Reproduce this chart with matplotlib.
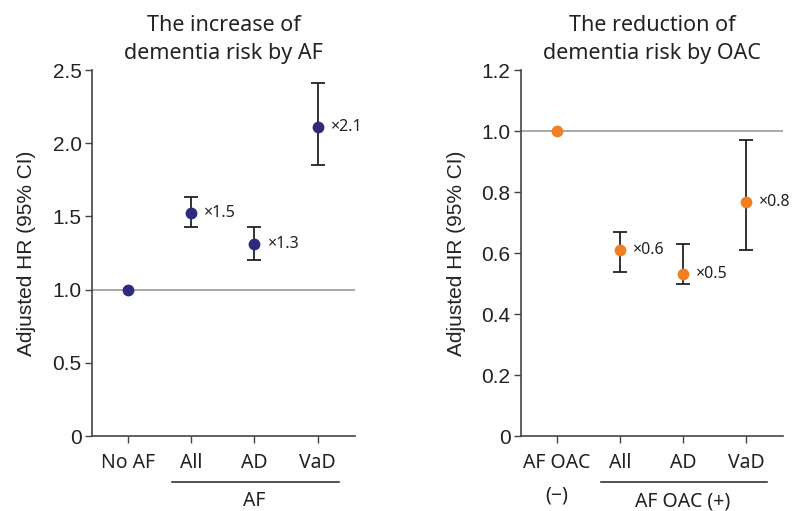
import matplotlib
matplotlib.use("Agg")
import matplotlib.pyplot as plt
import matplotlib.transforms as mtrans

plt.rcParams['font.family'] = ['Noto Sans', 'DejaVu Sans']

# Left panel data
left_cats = ["No AF", "All", "AD", "VaD"]
left_hr = [1.0, 1.52, 1.31, 2.11]
left_lo = [1.0, 1.43, 1.20, 1.85]
left_hi = [1.0, 1.635, 1.43, 2.41]
left_ann = [None, "×1.5", "×1.3", "×2.1"]
left_title = "The increase of\ndementia risk by AF"
left_group = "AF"
left_yticks = [0, 0.5, 1.0, 1.5, 2.0, 2.5]
left_yticklabels = ["0", "0.5", "1.0", "1.5", "2.0", "2.5"]

# Right panel data
right_cats = ["AF OAC\n(−)", "All", "AD", "VaD"]
right_hr = [1.0, 0.61, 0.53, 0.767]
right_lo = [1.0, 0.538, 0.50, 0.61]
right_hi = [1.0, 0.669, 0.63, 0.97]
right_ann = [None, "×0.6", "×0.5", "×0.8"]
right_title = "The reduction of\ndementia risk by OAC"
right_group = "AF OAC (+)"
right_yticks = [0, 0.2, 0.4, 0.6, 0.8, 1.0, 1.2]
right_yticklabels = ["0", "0.2", "0.4", "0.6", "0.8", "1.0", "1.2"]

W, H = 797, 511
fig = plt.figure(figsize=(W / 100, H / 100), dpi=100)

AX_H = 366
ax1 = fig.add_axes([92 / W, (H - 436) / H, 263 / W, AX_H / H])
ax2 = fig.add_axes([521 / W, (H - 436) / H, 262 / W, AX_H / H])

spine_c = "#444444"
err_c = "#222222"
txt_c = "#222222"
yfont = ['Liberation Sans', 'DejaVu Sans']

def draw(ax, ax_w, cats, hr, lo, hi, ann, title, group, yticks, yticklabels, ymax, color):
    x = list(range(len(cats)))
    ax.axhline(1.0, color="#9a9a9a", lw=1.2, zorder=1)
    for i in range(len(cats)):
        if hi[i] != lo[i]:
            ax.errorbar([x[i]], [hr[i]], yerr=[[hr[i] - lo[i]], [hi[i] - hr[i]]],
                        fmt="none", ecolor=err_c, elinewidth=1.3, capsize=5, capthick=1.3, zorder=2)
    ax.plot(x, hr, "o", color=color, markersize=8.5, zorder=3, markeredgewidth=0)
    for i, a in enumerate(ann):
        if a:
            ax.annotate(a, (x[i], hr[i]), xytext=(9.5, 0), textcoords="offset points",
                        va="center", ha="left", fontsize=11.5, color=txt_c)
    ax.set_xlim(-0.57, 3.59)
    ax.set_ylim(0, ymax)
    ax.set_xticks(x)
    ax.set_xticklabels(cats, fontsize=14, color=txt_c, linespacing=1.85)
    ax.set_yticks(yticks)
    ax.set_yticklabels(yticklabels, fontsize=15, color=txt_c, family=yfont)
    ax.set_ylabel("Adjusted HR (95% CI)", fontsize=15, color=txt_c, family=yfont, va="center")
    ax.yaxis.set_label_coords(-65 / ax_w, 0.5)
    for s in ["top", "right"]:
        ax.spines[s].set_visible(False)
    for s in ["left", "bottom"]:
        ax.spines[s].set_color(spine_c)
        ax.spines[s].set_linewidth(1.2)
    ax.tick_params(axis="both", colors=spine_c, labelcolor=txt_c, length=5, width=1)
    ax.tick_params(axis="x", pad=7)
    ax.tick_params(axis="y", pad=2.5)
    ax.set_title(title, fontsize=15.5, color=txt_c, pad=8, linespacing=1.45)
    trans = mtrans.blended_transform_factory(ax.transData, ax.transAxes)
    ax.plot([0.70, 3.33], [-45.7 / AX_H, -45.7 / AX_H], color=txt_c, lw=1.1,
            clip_on=False, transform=trans)
    ax.text(2.0, -65 / AX_H, group, ha="center", va="center", fontsize=14,
            color=txt_c, transform=trans)

draw(ax1, 263, left_cats, left_hr, left_lo, left_hi, left_ann, left_title, left_group,
     left_yticks, left_yticklabels, 2.5, "#2E2A7E")
draw(ax2, 262, right_cats, right_hr, right_lo, right_hi, right_ann, right_title, right_group,
     right_yticks, right_yticklabels, 1.2, "#F08024")

fig.savefig("out.png", dpi=100)
